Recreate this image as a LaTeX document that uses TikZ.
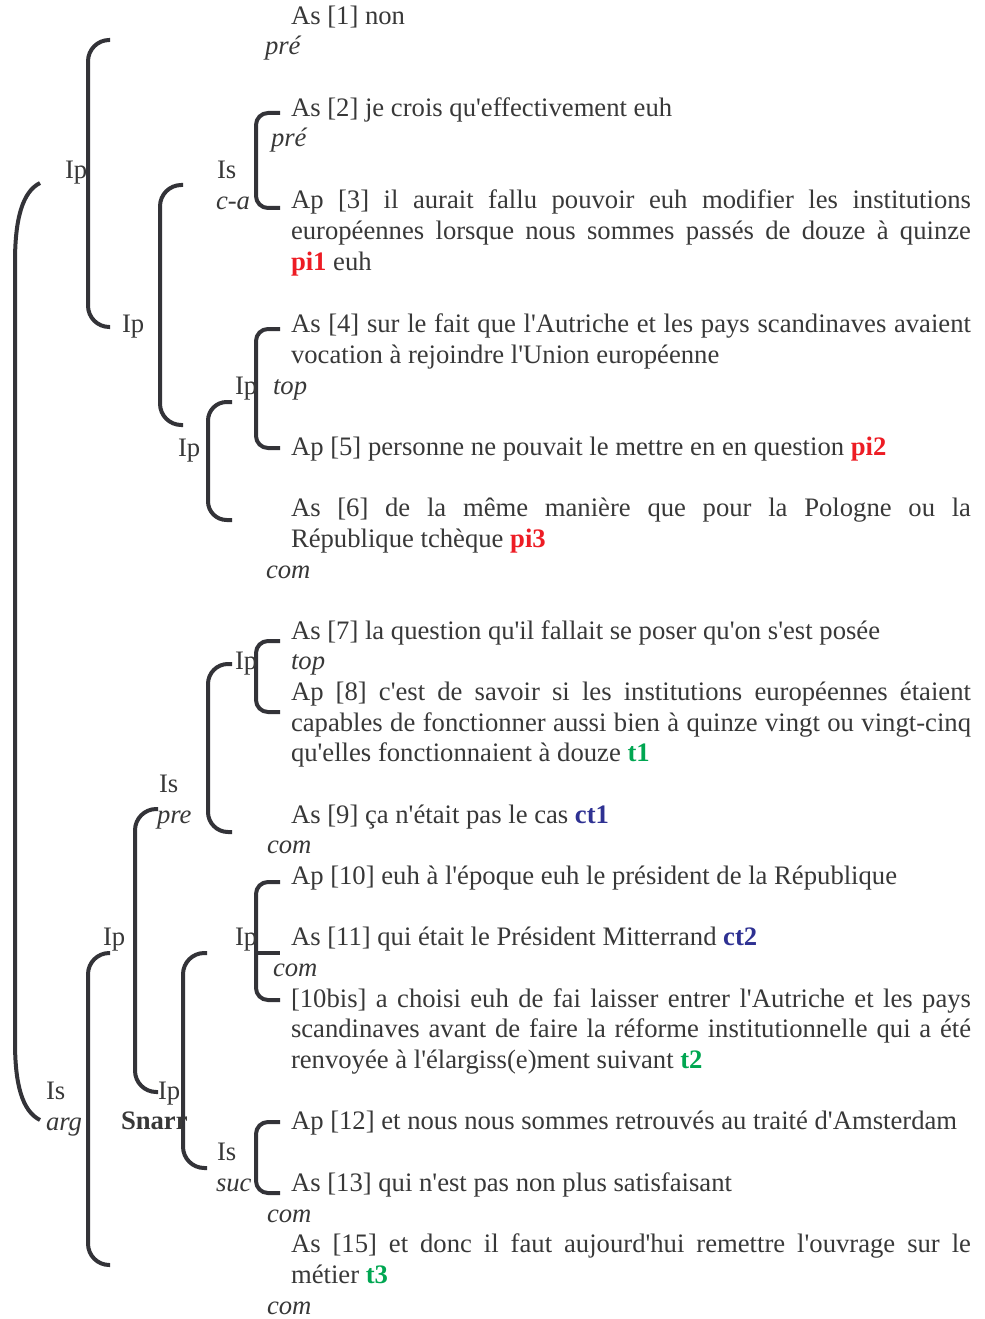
\documentclass[tikz,border=0pt]{standalone}
\usepackage{fontspec}
\setmainfont{Liberation Serif}[Ligatures=TeXOff]
\definecolor{txt}{HTML}{383838}
\definecolor{brc}{HTML}{333338}
\definecolor{pired}{HTML}{ED1C24}
\definecolor{tgreen}{HTML}{00A651}
\definecolor{ctblue}{HTML}{2E3192}
\newcommand\jl[1]{\makebox[510pt][s]{#1}}
\newcommand\rd[1]{\textcolor{pired}{\textbf{#1}}}
\newcommand\gn[1]{\textcolor{tgreen}{\textbf{#1}}}
\newcommand\bl[1]{\textcolor{ctblue}{\textbf{#1}}}
\newcommand\brkt[5]{\draw[brk, rounded corners=#5] (#2,#3) -- (#1,#3) -- (#1,#4) -- (#2,#4);}
\begin{document}
\begin{tikzpicture}[x=0.75pt,y=-0.75pt,
  every node/.style={inner sep=0pt, outer sep=0pt, text=txt, font=\fontsize{20}{24}\selectfont, anchor=base west},
  fn/.style={font=\fontsize{20}{24}\selectfont\itshape},
  brk/.style={draw=brc, line width=3pt}]
\useasboundingbox (0,0) rectangle (984,1319);
% brackets
\draw[brk] (40,183) .. controls (22,192) and (15,220) .. (15,262) -- (15,1042) .. controls (15,1084) and (22,1111) .. (40,1120);
\brkt{88}{110}{40}{327}{16pt}
\brkt{160}{183}{185}{425}{16pt}
\brkt{256}{280}{113}{208}{9pt}
\brkt{208}{232}{402}{520}{14pt}
\brkt{256}{280}{329}{448}{9pt}
\brkt{208}{232}{664}{832}{15pt}
\brkt{256}{280}{641}{712}{9pt}
\brkt{135}{158}{809}{1092}{16pt}
\brkt{256}{280}{882}{1000}{9pt}
\draw[brk] (256,953) -- (280,953);
\brkt{88}{110}{953}{1265}{16pt}
\brkt{183}{207}{953}{1168}{16pt}
\brkt{256}{280}{1122}{1193}{9pt}
% labels
\node (l1) at (65,179) {Ip};
\node (l2) at (122,332) {Ip};
\node (l3) at (217,179) {Is};
\node[fn] (l3b) at (216,210) {c-a};
\node (l4) at (235,394) {Ip};
\node (l5) at (178,456) {Ip};
\node (l6) at (235,669) {Ip};
\node (l7) at (159,792) {Is};
\node[fn] (l7b) at (157,823) {pre};
\node (l8) at (103,945) {Ip};
\node (l9) at (235,945) {Ip};
\node (l10) at (46,1099) {Is};
\node[fn] (l10b) at (46,1130) {arg};
\node (l11) at (158,1099) {Ip};
\node[font=\fontsize{20}{24}\selectfont\bfseries] (l12) at (121,1129) {Snarr};
\node (l13) at (217,1160) {Is};
\node[fn] (l13b) at (216,1191) {suc};
% text
\node (t1) at (291,25) {As [1] non};
\node[fn] (f1) at (265,55) {pré};
\node (t2) at (291,117) {As [2] je crois qu'effectivement euh};
\node[fn] (f2) at (271,147) {pré};
\node (t3a) at (291,209) {\jl{Ap [3] il aurait fallu pouvoir euh modifier les institutions}};
\node (t3b) at (291,240) {\jl{européennes lorsque nous sommes passés de douze à quinze}};
\node (t3c) at (291,271) {\rd{pi1} euh};
\node (t4a) at (291,332) {\jl{As [4] sur le fait que l'Autriche et les pays scandinaves avaient}};
\node (t4b) at (291,363) {vocation à rejoindre l'Union européenne};
\node[fn] (f4) at (273,394) {top};
\node (t5) at (291,455) {Ap [5] personne ne pouvait le mettre en en question \rd{pi2}};
\node (t6a) at (291,516) {\jl{As [6] de la même manière que pour la Pologne ou la}};
\node (t6b) at (291,547) {République tchèque \rd{pi3}};
\node[fn] (f6) at (266,578) {com};
\node (t7) at (291,639) {As [7] la question qu'il fallait se poser qu'on s'est posée};
\node[fn] (f7) at (291,669) {top};
\node (t8a) at (291,700) {\jl{Ap [8] c'est de savoir si les institutions européennes étaient}};
\node (t8b) at (291,731) {\jl{capables de fonctionner aussi bien à quinze vingt ou vingt-cinq}};
\node (t8c) at (291,761) {qu'elles fonctionnaient à douze \gn{t1}};
\node (t9) at (291,823) {As [9] ça n'était pas le cas \bl{ct1}};
\node[fn] (f9) at (267,853) {com};
\node (t10) at (291,884) {Ap [10] euh à l'époque euh le président de la République};
\node (t11) at (291,945) {As [11] qui était le Président Mitterrand \bl{ct2}};
\node[fn] (f11) at (273,976) {com};
\node (t10ba) at (291,1007) {\jl{[10bis] a choisi euh de fai laisser entrer l'Autriche et les pays}};
\node (t10bb) at (291,1037) {\jl{scandinaves avant de faire la réforme institutionnelle qui a été}};
\node (t10bc) at (291,1068) {renvoyée à l'élargiss(e)ment suivant \gn{t2}};
\node (t12) at (291,1129) {Ap [12] et nous nous sommes retrouvés au traité d'Amsterdam};
\node (t13) at (291,1191) {As [13] qui n'est pas non plus satisfaisant};
\node[fn] (f13) at (267,1222) {com};
\node (t15a) at (291,1252) {\jl{As [15] et donc il faut aujourd'hui remettre l'ouvrage sur le}};
\node (t15b) at (291,1283) {métier \gn{t3}};
\node[fn] (f15) at (267,1314) {com};
\end{tikzpicture}
\end{document}
